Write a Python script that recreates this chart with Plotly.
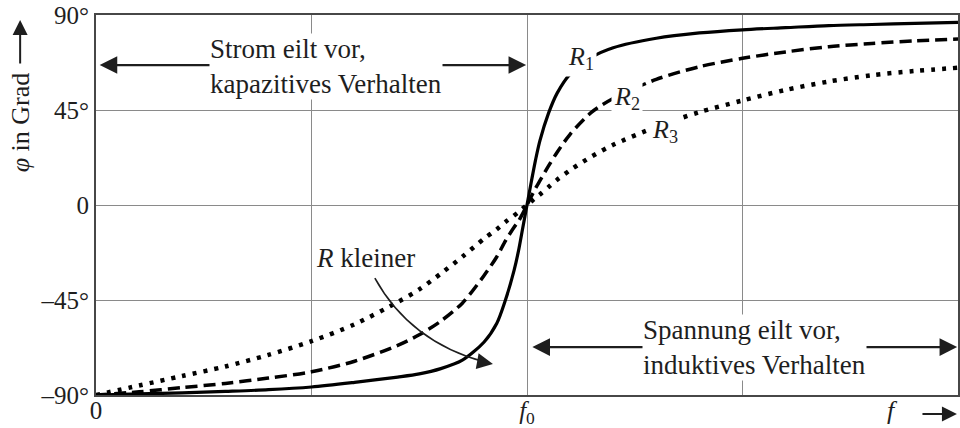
import plotly.graph_objects as go

# Frequency in units of the resonance frequency f0
f = [0, 0.1, 0.2, 0.3, 0.4, 0.5, 0.6, 0.7, 0.75, 0.8, 0.85, 0.9, 0.93, 0.95,
     0.97, 0.98, 0.99, 1.0, 1.01, 1.02, 1.03, 1.05, 1.07, 1.1, 1.15, 1.2,
     1.3, 1.4, 1.5, 1.6, 1.7, 1.8, 1.9, 2.0]

# Phase angle in degrees for three resistances (R1 < R2 < R3)
phi_r1 = [-90, -89.5, -89, -88.3, -87.5, -86.2, -84, -81.5, -80, -77.5, -73.5,
          -65, -56, -45, -31, -22, -11, 0, 11, 21.5, 30.5, 43.5, 53, 62, 70,
          74.5, 79, 81.5, 83, 84, 85, 85.5, 86, 86.5]
phi_r2 = [-90, -88.5, -86.5, -84.5, -82, -79, -74, -66.5, -61.5, -55, -46.5,
          -33.5, -24.5, -17, -10.5, -7.8, -4, 0, 4, 8, 11.5, 18.5, 25, 33.5,
          44, 50.5, 59.5, 65.5, 69.5, 72.5, 75, 76.5, 77.8, 78.6]
phi_r3 = [-90, -85.5, -81, -76.5, -71, -64.5, -56.5, -46, -40, -32.5, -24.5,
          -16, -11.5, -8, -5, -3.4, -1.7, 0, 1.7, 3.4, 5, 8.5, 12, 16.5, 23,
          28.5, 37, 44, 49.5, 54.5, 58.5, 61.5, 63.5, 65]

x_tickvals = [0, 1]
x_ticktext = ["0", "<i>f</i><sub>0</sub>"]
x_gridvals = [0.5, 1.5]
y_tickvals = [-90, -45, 0, 45, 90]
y_ticktext = ["\u201390\u00b0", "\u201345\u00b0", "0", "45\u00b0", "90\u00b0"]

FONT = "Liberation Serif"
INK = "#1e1e1e"
GRID = "#8a8a8a"

fig = go.Figure()

fig.add_trace(go.Scatter(x=f, y=phi_r3, mode="lines",
                         line=dict(color="black", width=4.5, dash="4px,7px",
                                   shape="spline", smoothing=0.8)))
fig.add_trace(go.Scatter(x=f, y=phi_r2, mode="lines",
                         line=dict(color="black", width=3.5, dash="12px,6px",
                                   shape="spline", smoothing=0.8)))
fig.add_trace(go.Scatter(x=f, y=phi_r1, mode="lines",
                         line=dict(color="black", width=3.2,
                                   shape="spline", smoothing=0.8)))

ann = []

# Region arrows with their explanatory text
ann.append(dict(x=0.998, y=66.3, ax=0.005, ay=66.3, xref="x", yref="y",
                axref="x", ayref="y", text="", showarrow=True,
                arrowside="end+start", arrowhead=2, startarrowhead=2,
                arrowwidth=2.2, arrowsize=1.6, startarrowsize=1.6,
                arrowcolor=INK, standoff=0, startstandoff=0))
ann.append(dict(x=0.262, y=65.4, xref="x", yref="y", xanchor="left",
                yanchor="middle", align="left", showarrow=False,
                text="Strom eilt vor,<br>kapazitives Verhalten",
                bgcolor="white", borderpad=0,
                font=dict(family=FONT, size=27, color=INK)))

ann.append(dict(x=1.998, y=-67.3, ax=1.009, ay=-67.3, xref="x", yref="y",
                axref="x", ayref="y", text="", showarrow=True,
                arrowside="end+start", arrowhead=2, startarrowhead=2,
                arrowwidth=2.2, arrowsize=1.6, startarrowsize=1.6,
                arrowcolor=INK, standoff=0, startstandoff=0))
ann.append(dict(x=1.266, y=-67.7, xref="x", yref="y", xanchor="left",
                yanchor="middle", align="left", showarrow=False,
                text="Spannung eilt vor,<br>induktives Verhalten",
                bgcolor="white", borderpad=0,
                font=dict(family=FONT, size=27, color=INK)))

# Curve labels
for lx, ly, lab in [(1.125, 69.6, "1"), (1.232, 50.7, "2"), (1.320, 35.1, "3")]:
    ann.append(dict(x=lx, y=ly, xref="x", yref="y", showarrow=False,
                    text="<i>R</i><sub>" + lab + "</sub>", bgcolor="white",
                    borderpad=2, font=dict(family=FONT, size=26, color=INK)))

# "R kleiner" hint with curved arrow
ann.append(dict(x=0.506, y=-25.1, xref="x", yref="y", xanchor="left",
                yanchor="middle", showarrow=False, text="<i>R</i> kleiner",
                font=dict(family=FONT, size=27, color=INK)))
ann.append(dict(x=0.921, y=-75.3, ax=0.888, ay=-74.1, xref="x", yref="y",
                axref="x", ayref="y", text="", showarrow=True, arrowhead=2,
                arrowwidth=1.6, arrowsize=2.0, arrowcolor=INK, standoff=0))

# Axis titles with arrows
ann.append(dict(x=-0.088, y=0.718, xref="paper", yref="paper", showarrow=False,
                text="<i>\u03c6</i> in Grad", textangle=-90,
                xanchor="center", yanchor="middle",
                font=dict(family=FONT, size=26, color=INK)))
ann.append(dict(x=-0.088, y=0.987, xref="paper", yref="paper", text="",
                showarrow=True, ax=0, ay=45, arrowhead=2, arrowwidth=2,
                arrowsize=1.5, arrowcolor=INK, standoff=0))
ann.append(dict(x=0.933, y=-0.084, xref="paper", yref="paper", showarrow=False,
                text="<i>f</i>", font=dict(family=FONT, size=26, color=INK)))
ann.append(dict(x=0.9988, y=-0.05, xref="paper", yref="paper", text="",
                showarrow=True, ax=-36, ay=0, arrowhead=2, arrowwidth=2,
                arrowsize=1.5, arrowcolor=INK, standoff=0))

fig.update_layout(
    width=960, height=428,
    margin=dict(l=96, r=2, t=15, b=33),
    paper_bgcolor="white", plot_bgcolor="white",
    showlegend=False,
    font=dict(family=FONT, size=25, color=INK),
    annotations=ann,
    shapes=[dict(type="path", xref="x", yref="y",
                 path="M 0.647,-34.6 Q 0.729,-64.9 0.903,-74.4",
                 line=dict(color=INK, width=1.6))],
)

fig.update_xaxes(range=[0, 2], tickvals=x_tickvals, ticktext=x_ticktext,
                 showgrid=True, gridcolor=GRID, gridwidth=1,
                 minor=dict(tickvals=x_gridvals, showgrid=True,
                            gridcolor=GRID, gridwidth=1, ticks=""),
                 showline=True, mirror=True, linecolor="#474747", linewidth=2,
                 zeroline=False, ticks="", automargin=False,
                 ticklabelstandoff=-8,
                 tickfont=dict(family=FONT, size=25, color=INK))
fig.update_yaxes(range=[-90, 90], tickvals=y_tickvals, ticktext=y_ticktext,
                 showgrid=True, gridcolor=GRID, gridwidth=1,
                 showline=True, mirror=True, linecolor="#474747", linewidth=2,
                 zeroline=False, ticks="", automargin=False,
                 tickfont=dict(family=FONT, size=25, color=INK))

fig.write_html("out.html")
